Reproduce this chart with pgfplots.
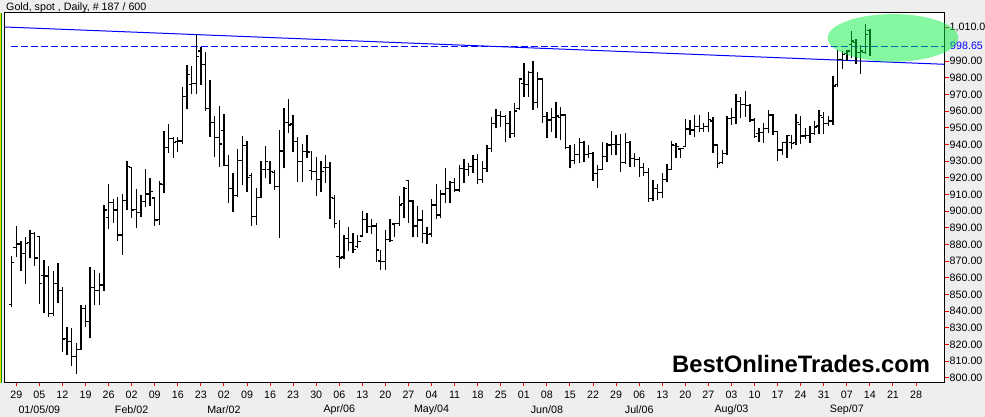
\documentclass[border=0pt]{standalone}
\usepackage{pgfplots}
\pgfplotsset{compat=1.18}
\usepackage{pgfplotstable}
\usepackage{fontspec}
\setmainfont{Liberation Sans}
\definecolor{bggray}{RGB}{238,238,238}
\definecolor{ellgreen}{RGB}{0,240,60}
\definecolor{pureblue}{RGB}{0,0,255}
\pgfdeclareplotmark{otick}{\pgfpathmoveto{\pgfqpoint{-2.8pt}{0pt}}\pgfpathlineto{\pgfqpoint{0.6pt}{0pt}}\pgfusepathqstroke}
\pgfdeclareplotmark{ctick}{\pgfpathmoveto{\pgfqpoint{-0.6pt}{0pt}}\pgfpathlineto{\pgfqpoint{2.8pt}{0pt}}\pgfusepathqstroke}
\newcommand{\tl}{\fontsize{10.7}{12}\selectfont}
\pgfplotstableread{
d o h l c
-1 844.1 873.1 842.7 869.1
0 878.3 891.1 872.7 880.3
1 880.3 882.3 864.3 874.7
2 874.7 884.7 856.3 880.7
3 881.0 888.7 872.0 886.7
4 886.7 887.5 867.3 871.9
5 884.7 885.1 844.5 856.7
6 861.4 870.7 838.7 861.1
7 861.1 867.1 836.3 838.7
8 838.7 864.2 837.0 856.5
9 856.7 868.9 844.7 852.5
10 852.5 854.5 815.7 823.4
11 823.7 830.7 813.7 821.7
12 821.7 829.9 807.1 813.1
13 813.1 820.7 802.6 817.1
14 817.1 843.5 816.7 841.7
15 841.7 843.7 830.7 833.9
16 833.9 866.7 823.7 854.3
17 854.3 864.7 843.5 852.3
18 852.3 862.7 843.9 855.7
19 855.7 903.7 852.3 900.7
20 896.3 916.3 889.1 905.1
21 905.1 907.1 892.7 900.7
22 900.7 908.7 882.3 885.7
23 885.7 910.3 873.9 906.3
24 906.3 930.0 900.7 926.6
25 926.3 926.7 895.9 900.7
26 901.1 913.5 889.7 899.1
27 899.1 909.5 896.7 905.9
28 905.9 925.1 902.3 910.3
29 910.3 919.9 903.1 911.7
30 907.9 908.7 891.1 894.7
31 895.1 918.3 891.5 916.3
32 915.9 948.3 910.7 938.3
33 938.3 952.3 934.7 943.5
34 943.6 944.6 932.0 941.2
35 941.6 944.2 935.6 942.0
36 942.0 974.6 940.0 968.6
37 968.6 987.6 961.0 982.0
38 976.0 987.2 970.0 976.6
39 976.6 1006.0 970.0 992.6
40 996.0 998.6 975.6 988.0
41 988.0 995.2 960.0 961.6
42 961.6 978.6 944.6 953.2
43 953.2 957.2 932.6 944.2
44 944.2 963.0 926.6 940.2
45 948.4 958.0 927.2 927.6
46 927.6 933.6 905.2 913.6
47 913.6 922.6 899.6 909.2
48 909.2 937.2 908.5 930.4
49 930.4 944.8 915.6 939.2
50 939.2 942.0 911.6 920.4
51 921.6 922.6 891.2 897.0
52 897.0 913.6 892.0 908.0
53 908.0 930.0 907.6 925.0
54 925.0 939.0 919.6 930.0
55 925.2 930.0 916.0 924.0
56 923.2 924.4 912.8 914.8
57 914.8 948.6 884.2 936.0
58 936.0 961.6 925.6 953.2
59 953.2 967.2 946.6 951.6
60 952.2 957.6 935.6 941.6
61 941.6 944.4 917.6 930.0
62 930.0 940.2 917.2 935.6
63 935.6 945.6 931.6 935.4
64 924.2 936.0 918.6 923.6
65 923.6 932.4 909.2 919.2
66 919.2 930.0 911.6 924.0
67 926.0 933.7 916.7 926.3
68 926.3 929.7 895.1 908.3
69 907.7 909.7 889.7 892.7
70 873.0 894.5 865.7 872.0
71 872.5 885.7 871.1 883.5
72 883.5 890.3 876.3 881.1
73 881.1 886.7 875.1 877.1
74 878.7 885.9 877.7 881.9
75 885.1 900.1 884.7 895.1
76 895.1 899.1 886.7 890.7
77 890.7 895.1 886.3 891.1
78 891.1 893.1 869.7 876.7
79 870.1 876.7 864.7 869.7
80 869.7 888.7 864.7 883.1
81 883.1 895.1 881.7 882.3
82 892.3 893.1 884.3 892.7
83 892.7 909.0 891.0 903.7
84 904.7 914.3 895.7 913.7
85 918.3 918.7 892.7 906.1
86 906.1 906.3 884.3 891.1
87 891.1 903.1 884.3 894.7
88 894.7 900.7 880.7 886.7
89 886.7 890.7 880.3 886.1
90 886.3 907.1 884.3 903.7
91 903.7 916.3 895.1 897.7
92 897.7 912.7 895.7 910.3
93 910.3 925.7 904.7 913.7
94 913.7 918.3 905.1 917.1
95 917.1 919.7 911.7 912.7
96 912.7 927.9 911.7 925.7
97 925.7 931.1 917.1 925.1
98 925.1 928.7 921.1 926.7
99 926.7 933.7 922.7 931.1
100 931.1 934.3 916.3 919.1
101 919.1 930.3 917.1 925.7
102 925.7 939.7 923.7 937.7
103 937.6 956.6 935.6 952.6
104 952.6 961.2 949.6 957.2
105 957.2 960.0 950.6 956.6
106 956.6 957.6 941.2 952.6
107 952.6 960.0 944.0 946.6
108 946.6 964.6 944.6 960.0
109 961.6 980.0 960.6 979.2
110 976.6 988.6 968.6 976.0
111 976.0 984.0 968.6 983.2
112 983.2 990.0 960.6 965.2
113 965.2 983.6 961.6 979.2
114 979.2 979.6 952.6 956.6
115 956.6 959.6 943.6 954.6
116 954.6 961.6 947.2 956.0
117 956.0 965.2 943.6 957.0
118 956.0 962.6 942.6 957.6
119 957.6 958.5 937.0 938.0
120 938.0 939.6 925.6 930.6
121 930.6 940.0 928.0 934.0
122 934.0 943.6 928.6 941.2
123 941.2 942.0 929.6 934.0
124 934.0 939.6 932.0 934.5
125 934.5 935.6 918.0 922.6
126 922.6 927.6 913.6 925.2
127 925.2 941.2 924.5 932.6
128 932.6 940.6 929.6 939.6
129 939.6 948.0 933.6 939.8
130 939.8 945.6 933.6 940.0
131 940.0 946.0 923.6 929.2
132 929.2 946.6 928.5 941.2
133 941.2 942.0 926.6 931.6
134 931.6 934.6 926.6 931.2
135 931.2 932.6 920.6 926.0
136 926.0 929.0 921.2 923.2
137 923.0 925.6 905.6 907.6
138 907.6 918.5 906.0 913.5
139 913.5 916.0 906.8 911.0
140 911.0 923.0 907.6 919.0
141 919.0 928.0 917.5 925.0
142 925.0 942.0 924.6 939.6
143 939.2 940.6 932.0 938.6
144 937.2 938.0 932.0 937.4
145 938.8 955.2 938.2 949.2
146 949.2 954.6 945.6 948.6
147 948.6 957.6 944.6 950.6
148 950.6 957.6 947.6 949.6
149 949.6 952.6 947.6 950.6
150 950.6 959.6 947.6 955.0
151 954.0 956.6 934.6 939.6
152 939.6 940.5 925.6 928.6
153 929.2 936.6 928.2 934.6
154 934.6 957.2 933.6 955.6
155 955.6 962.0 951.6 956.2
156 956.2 970.0 952.0 965.6
157 965.6 968.6 956.0 964.0
158 964.0 972.0 956.6 963.2
159 963.2 964.0 953.2 954.6
160 954.6 955.6 944.0 944.6
161 946.6 950.0 941.2 947.2
162 947.2 952.6 940.6 949.6
163 949.6 960.6 946.6 957.6
164 957.6 958.3 945.6 947.6
165 947.6 948.3 930.0 936.6
166 936.6 941.6 933.6 941.2
167 941.2 945.6 932.0 945.2
168 941.2 945.6 937.2 940.6
169 941.0 958.0 939.6 953.0
170 952.0 957.0 940.0 945.0
171 945.0 950.0 943.0 945.5
172 945.5 951.0 941.0 946.5
173 946.5 954.0 945.6 950.5
174 951.0 960.5 946.0 957.5
175 956.0 959.5 946.0 952.5
176 952.5 957.2 951.0 954.0
177 954.0 981.0 951.5 975.0
178 976.0 996.5 974.2 991.0
179 991.0 996.0 985.0 994.0
180 994.5 996.5 990.0 996.0
181 1000.0 1008.0 992.0 1002.0
182 1001.0 1003.0 988.0 995.0
183 995.0 999.5 982.5 996.0
184 995.0 1012.0 994.0 1006.0
185 1008.5 1009.0 993.0 nan
}\ohlc
\begin{document}
\begin{tikzpicture}[x=1pt,y=1pt]
\useasboundingbox (0,0) rectangle (985,417);
\fill[bggray] (0,0) rectangle (985,417);
\fill[yellow!85!olive] (0,34) rectangle (0.9,404);
\fill[green!55!black] (0.9,34) rectangle (1.8,404);
\begin{axis}[
  at={(5pt,34pt)}, anchor=south west,
  scale only axis, width=939pt, height=370pt,
  xmin=-2.449, xmax=201.06, ymin=797.0, ymax=1018.8,
  axis background/.style={fill=white},
  axis line style={black, line width=1pt},
  clip mode=individual,
  tick align=outside,
  xtick pos=left, ytick pos=right, yticklabel pos=right,
  xtick={0,5,...,195},
  xticklabels={29,05,12,19,26,02,09,16,23,02,09,16,23,30,06,13,20,27,04,11,18,25,01,08,15,22,29,06,13,20,27,03,10,17,24,31,07,14,21,28},
  ytick={800,810,820,830,840,850,860,870,880,890,900,910,920,930,940,950,960,970,980,990,1010},
  yticklabels={800.00,810.00,820.00,830.00,840.00,850.00,860.00,870.00,880.00,890.00,900.00,910.00,920.00,930.00,940.00,950.00,960.00,970.00,980.00,990.00,{1,010.00}},
  major tick length=4.5pt,
  xtick style={red, line width=1pt, /pgfplots/major tick length=3pt},
  ytick style={red, line width=1pt},
  ticklabel style={font=\tl, text=black},
  yticklabel style={anchor=west, inner sep=0pt, xshift=1pt},
  xticklabel style={anchor=north, inner sep=0pt, yshift=-3pt},
]
\addplot[draw=pureblue, line width=1pt, forget plot] coordinates {(-2.449,1010.4) (201.06,988.06)};
\addplot[draw=pureblue, line width=1.1pt, dash pattern=on 7pt off 3pt, forget plot] coordinates {(-1.15,998.65) (201.06,998.65)};
\addplot[draw=none, mark=none, forget plot,
  error bars/.cd, y dir=plus, y explicit, error mark=none,
  error bar style={draw=black, line width=1.35pt, solid}]
  table[x=d, y=l, y error expr=\thisrow{h}-\thisrow{l}] {\ohlc};
\addplot[only marks, mark=otick, mark options={black, line width=1.25pt}, forget plot] table[x=d, y=o] {\ohlc};
\addplot[only marks, mark=ctick, mark options={black, line width=1.25pt}, forget plot] table[x=d, y=c] {\ohlc};
\node[font=\tl, anchor=center] at (axis cs:5,797) [yshift=-26.3pt] {01/05/09};
\node[font=\tl, anchor=center] at (axis cs:25,797) [yshift=-26.3pt] {Feb/02};
\node[font=\tl, anchor=center] at (axis cs:45,797) [yshift=-26.3pt] {Mar/02};
\node[font=\tl, anchor=center] at (axis cs:70,797) [yshift=-26.3pt] {Apr/06};
\node[font=\tl, anchor=center] at (axis cs:90,797) [yshift=-26.3pt] {May/04};
\node[font=\tl, anchor=center] at (axis cs:115,797) [yshift=-26.3pt] {Jun/08};
\node[font=\tl, anchor=center] at (axis cs:135,797) [yshift=-26.3pt] {Jul/06};
\node[font=\tl, anchor=center] at (axis cs:155,797) [yshift=-26.3pt] {Aug/03};
\node[font=\tl, anchor=center] at (axis cs:180,797) [yshift=-26.3pt] {Sep/07};
\end{axis}
\node[anchor=base west, inner sep=0pt, font=\tl] at (6,406.7) {Gold, spot , Daily, \# 187 / 600};
\node[anchor=west, inner sep=0pt, font=\tl, text=pureblue] at (950,370.7) {998.65};
\node[anchor=base west, inner sep=0pt, font=\fontsize{23.8}{26}\selectfont\bfseries] at (672,44.3) {BestOnlineTrades.com};
\fill[ellgreen, opacity=0.48] (893,379.1) ellipse [x radius=65.3, y radius=23.8];
\end{tikzpicture}
\end{document}
